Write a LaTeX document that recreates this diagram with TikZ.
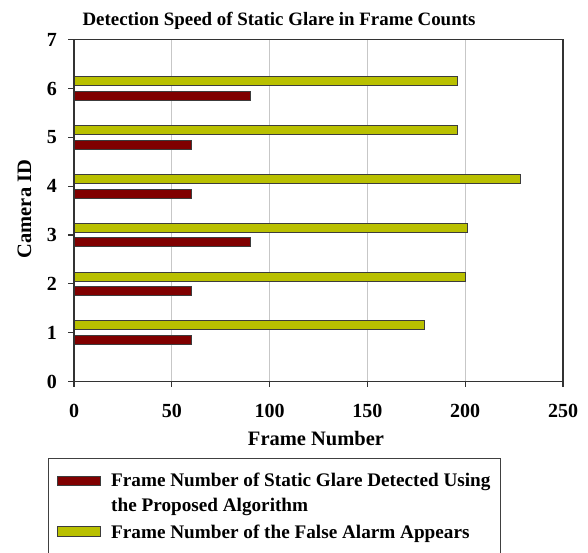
\documentclass[tikz,border=0pt]{standalone}
\usepackage{fontspec}
\setmainfont{Liberation Serif}
\definecolor{detectred}{RGB}{128,0,0}
\definecolor{alarmyellow}{RGB}{185,192,0}
\definecolor{bardraw}{RGB}{60,60,60}
\begin{document}
\begin{tikzpicture}[
    x=1pt, y=1pt,
    ticklabel/.style={font=\bfseries\fontsize{20}{24}\selectfont, inner sep=0pt},
    axtitle/.style={font=\bfseries\fontsize{20.5}{24}\selectfont, inner sep=0pt},
    legtext/.style={font=\bfseries\fontsize{19.2}{25}\selectfont, inner sep=0pt, align=left},
    detect/.style={fill=detectred, draw=bardraw, line width=0.8pt},
    alarm/.style={fill=alarmyellow, draw=bardraw, line width=0.8pt},
    gridline/.style={draw=black!22, line width=0.9pt},
    plotframe/.style={draw=black!80, line width=1.2pt}
]
  \useasboundingbox (0,0) rectangle (588,553);
  \node[font=\bfseries\fontsize{18.9}{22}\selectfont, inner sep=0pt, anchor=base] (title) at (279,527)
    {Detection Speed of Static Glare in Frame Counts};
  % plot area, one unit = one frame / one camera
  \begin{scope}[shift={(74,171.5)}, x=1.956pt, y=48.8pt]
    \foreach \f in {50,100,150,200}
      \draw[gridline] (\f,0) -- (\f,7);
    % bars per camera
    \foreach \c/\d/\a in {1/60/179, 2/60/200, 3/90/201, 4/60/228, 5/60/196, 6/90/196} {
      \draw[alarm] (0,\c+0.06) rectangle (\a,\c+0.245);
      \draw[detect] (0,\c-0.24) rectangle (\d,\c-0.055);
    }
    \draw[plotframe] (0,0) rectangle (250,7);
    % ticks
    \foreach \c in {0,...,7} {
      \draw[plotframe] (0,\c) -- ++(-6pt,0);
      \node[ticklabel, anchor=east] (ytick\c) at ([xshift=-17pt]0,\c) {\c};
    }
    \foreach \f in {0,50,...,250} {
      \draw[plotframe] (\f,0) -- ++(0,-6pt);
      \node[ticklabel, anchor=base] (xtick\f) at ([yshift=-35.8pt]\f,0) {\f};
    }
  \end{scope}
  \node[axtitle, anchor=base] (xtitle) at (316,107.3) {Frame Number};
  \node[axtitle, rotate=90] (ytitle) at (24.5,344) {Camera ID};
  % legend
  \draw[draw=black!75, line width=1pt] (48.3,-5) rectangle (500.7,94.7);
  \draw[detect] (57,68) rectangle (100,77);
  \draw[alarm] (57,17) rectangle (100,27);
  % base of a two-line node sits on its last line
  \node[legtext, anchor=base west] (legdetect) at (111,41.3)
    {Frame Number of Static Glare Detected Using\\the Proposed Algorithm};
  \node[legtext, anchor=base west] (legalarm) at (111,14)
    {Frame Number of the False Alarm Appears};
\end{tikzpicture}
\end{document}
